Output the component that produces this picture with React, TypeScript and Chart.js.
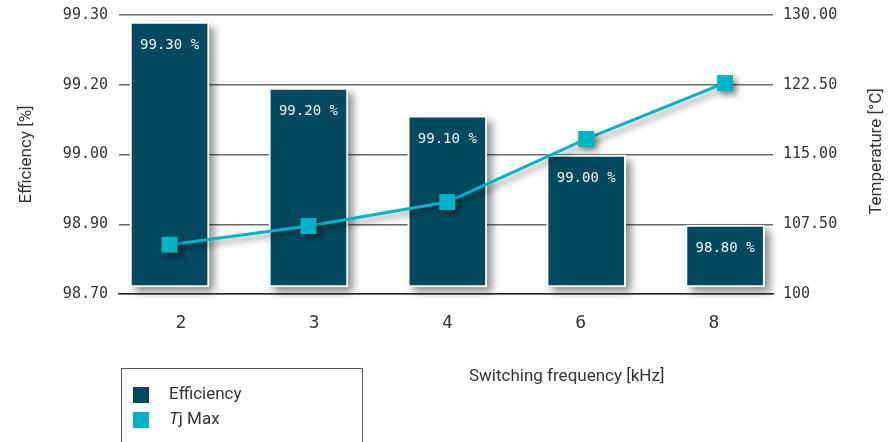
import React, { useEffect, useRef } from "react";
import { Chart, registerables } from "chart.js";

Chart.register(...registerables);

const categories = ["2", "3", "4", "6", "8"];
const efficiency = [99.285, 99.143, 99.083, 98.999, 98.848];
const efficiencyLabels = ["99.30 %", "99.20 %", "99.10 %", "99.00 %", "98.80 %"];
const tjMax = [105.3, 107.31, 109.89, 116.67, 122.69];
const effTickValues = [98.7, 98.85, 99.0, 99.15, 99.3];
const effTickLabels = ["98.70", "98.90", "99.00", "99.20", "99.30"];
const tempTickValues = [100, 107.5, 115, 122.5, 130];
const tempTickLabels = ["100", "107.50", "115.00", "122.50", "130.00"];

const BAR = "#034A61";
const CYAN = "#00B4C8";
const TEXT = "#333333";
const NUM_FONT = "'DejaVu Sans Mono', monospace";
const WORD_FONT = "Roboto, 'Noto Sans', sans-serif";

const decorPlugin = {
  id: "decor",
  beforeDatasetsDraw(chart: any) {
    const ctx = chart.ctx;
    const meta = chart.getDatasetMeta(0);
    ctx.save();
    ctx.shadowColor = "rgba(0,0,0,0.45)";
    ctx.shadowBlur = 8;
    ctx.shadowOffsetX = 5;
    ctx.shadowOffsetY = 5;
    ctx.fillStyle = "#ffffff";
    meta.data.forEach((el: any) => {
      const { x, y, base, width } = el.getProps(["x", "y", "base", "width"], true);
      ctx.fillRect(x - width / 2, Math.min(y, base), width, Math.abs(base - y));
    });
    ctx.restore();
  },
  beforeDatasetDraw(chart: any, args: any) {
    if (args.index === 1) {
      const ctx = chart.ctx;
      ctx.save();
      ctx.shadowColor = "rgba(0,0,0,0.45)";
      ctx.shadowBlur = 6;
      ctx.shadowOffsetX = 4;
      ctx.shadowOffsetY = 4;
    }
  },
  afterDatasetDraw(chart: any, args: any) {
    const ctx = chart.ctx;
    if (args.index === 1) {
      ctx.restore();
    }
    if (args.index === 0) {
      const meta = chart.getDatasetMeta(0);
      ctx.save();
      ctx.fillStyle = "#f2f2f2";
      ctx.font = `14px ${NUM_FONT}`;
      ctx.textAlign = "center";
      ctx.textBaseline = "middle";
      meta.data.forEach((el: any, i: number) => {
        const { x, y } = el.getProps(["x", "y"], true);
        ctx.fillText(efficiencyLabels[i], x, y + 23);
      });
      ctx.restore();
    }
  },
  afterDraw(chart: any) {
    const ctx = chart.ctx;
    const area = chart.chartArea;
    ctx.save();
    // right axis title
    ctx.fillStyle = TEXT;
    ctx.font = `17px ${WORD_FONT}`;
    ctx.textAlign = "center";
    ctx.textBaseline = "middle";
    ctx.save();
    ctx.translate(chart.width - 11, (area.top + area.bottom) / 2 - 3);
    ctx.rotate(-Math.PI / 2);
    ctx.fillText("Temperature [°C]", 0, 0);
    ctx.restore();
    // x axis title
    ctx.textAlign = "left";
    ctx.fillText("Switching frequency [kHz]", area.left + 350, area.bottom + 83);
    // legend
    const lx = area.left + 2;
    const ly = area.bottom + 74;
    ctx.strokeStyle = "#555555";
    ctx.lineWidth = 1;
    ctx.strokeRect(lx + 0.5, ly + 0.5, 241, 120);
    ctx.fillStyle = BAR;
    ctx.fillRect(lx + 12, ly + 19, 16, 16);
    ctx.fillStyle = CYAN;
    ctx.fillRect(lx + 12, ly + 44, 16, 16);
    ctx.fillStyle = TEXT;
    ctx.font = `17px ${WORD_FONT}`;
    ctx.textAlign = "left";
    ctx.fillText("Efficiency", lx + 48, ly + 27);
    ctx.font = `italic 17px ${WORD_FONT}`;
    ctx.fillText("T", lx + 48, ly + 52);
    const tw = ctx.measureText("T").width;
    ctx.font = `17px ${WORD_FONT}`;
    ctx.fillText("j Max", lx + 48 + tw, ly + 52);
    ctx.restore();
  },
};

export default function App() {
  const ref = useRef<HTMLCanvasElement | null>(null);

  useEffect(() => {
    if (!ref.current) return;
    const chart = new Chart(ref.current, {
      type: "bar",
      data: {
        datasets: [
          {
            type: "bar",
            label: "Efficiency",
            data: efficiency.map((v, i) => ({ x: i, y: v })),
            xAxisID: "x",
            yAxisID: "y",
            backgroundColor: BAR,
            borderColor: "#ffffff",
            borderWidth: 2,
            borderSkipped: false,
            barThickness: 79,
            base: 98.715,
            order: 2,
          } as any,
          {
            type: "line",
            label: "Tj Max",
            data: tjMax.map((v, i) => ({ x: i, y: v })),
            xAxisID: "x",
            yAxisID: "y1",
            borderColor: CYAN,
            borderWidth: 3,
            pointStyle: "rect",
            pointRadius: 11.3,
            pointHoverRadius: 11.3,
            pointBackgroundColor: CYAN,
            pointBorderWidth: 0,
            tension: 0,
            order: 1,
          } as any,
        ],
      },
      options: {
        animation: false,
        responsive: true,
        maintainAspectRatio: false,
        events: [],
        layout: { padding: { top: 15, left: 0, right: 0, bottom: 0 } },
        plugins: {
          legend: { display: false },
          tooltip: { enabled: false },
        },
        scales: {
          x: {
            type: "linear",
            display: false,
            offset: false,
            grid: { offset: false },
            min: -0.364,
            max: 4.345,
          } as any,
          xl: {
            type: "linear",
            axis: "x",
            position: "bottom",
            offset: false,
            min: -0.465,
            max: 4.443,
            afterBuildTicks: (s: any) => {
              s.ticks = categories.map((_, i) => ({ value: i }));
            },
            afterFit: (s: any) => {
              s.height = 148;
              s.paddingLeft = 0;
              s.paddingRight = 0;
            },
            ticks: {
              callback: (v: any) => categories[Math.round(Number(v))] ?? "",
              font: { family: NUM_FONT, size: 18 },
              color: TEXT,
              padding: 19,
              autoSkip: false,
              maxRotation: 0,
            },
            grid: { display: false, drawTicks: false, offset: false },
            border: { display: true, color: "#2a2a2a", width: 1.5 },
          } as any,
          y: {
            type: "linear",
            position: "left",
            min: 98.7,
            max: 99.3,
            afterBuildTicks: (s: any) => {
              s.ticks = effTickValues.map((v) => ({ value: v }));
            },
            afterFit: (s: any) => {
              s.width = 119;
              s.paddingTop = 0;
              s.paddingBottom = 0;
            },
            ticks: {
              callback: (_v: any, i: number) => effTickLabels[i],
              font: { family: NUM_FONT, size: 15 },
              color: TEXT,
              padding: 11,
            },
            grid: { color: "#6a6a6a", lineWidth: 1.5, drawTicks: false },
            border: { display: false },
            title: {
              display: true,
              text: "Efficiency [%]",
              font: { family: WORD_FONT, size: 17 },
              color: TEXT,
              padding: { top: 17, bottom: 0 },
            },
          } as any,
          y1: {
            type: "linear",
            position: "right",
            min: 100,
            max: 130,
            afterBuildTicks: (s: any) => {
              s.ticks = tempTickValues.map((v) => ({ value: v }));
            },
            afterFit: (s: any) => {
              s.width = 115;
              s.paddingTop = 0;
              s.paddingBottom = 0;
            },
            ticks: {
              callback: (_v: any, i: number) => tempTickLabels[i],
              font: { family: NUM_FONT, size: 15 },
              color: TEXT,
              padding: 10,
            },
            grid: { display: false, drawTicks: false },
            border: { display: false },
          } as any,
        },
      },
      plugins: [decorPlugin],
    } as any);
    return () => chart.destroy();
  }, []);

  return (
    <div
      style={{
        position: "fixed",
        left: 0,
        top: 0,
        width: 888,
        height: 442,
        background: "#ffffff",
      }}
    >
      <canvas ref={ref} />
    </div>
  );
}
